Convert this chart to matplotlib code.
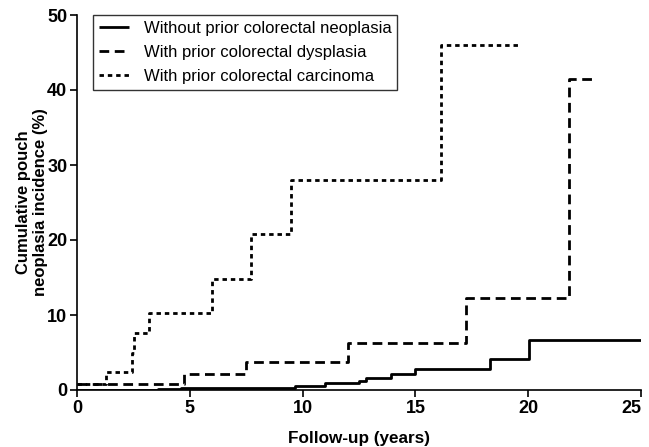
import matplotlib
matplotlib.use("Agg")
import matplotlib.pyplot as plt

# Kaplan-Meier style cumulative incidence (%) at each event time (years)
no_prior_t = [0, 3.6, 4.6, 9.65, 11.0, 12.5, 12.8, 13.9, 15.0, 18.3, 20.05, 25.0]
no_prior_y = [0, 0.1, 0.3, 0.5, 0.9, 1.2, 1.6, 2.2, 2.8, 4.1, 6.7, 6.7]

dysplasia_t = [0, 4.73, 7.5, 12.0, 17.25, 21.8, 23.0]
dysplasia_y = [0.8, 2.1, 3.7, 6.3, 12.3, 41.5, 41.5]

carcinoma_t = [0, 1.27, 2.42, 2.52, 3.19, 6.0, 7.7, 9.5, 16.15, 19.6]
carcinoma_y = [0.8, 2.4, 5.0, 7.6, 10.3, 14.8, 20.8, 28.0, 46.0, 46.0]

labels = ["Without prior colorectal neoplasia",
          "With prior colorectal dysplasia",
          "With prior colorectal carcinoma"]

plt.rcParams['font.family'] = ['Liberation Sans', 'DejaVu Sans']

fig = plt.figure(figsize=(6.49, 4.47), dpi=100)
ax = fig.add_axes([77 / 649, 1 - 390 / 447, (641 - 77) / 649, (390 - 15) / 447])

lw = 2.0
ax.plot(no_prior_t, no_prior_y, drawstyle='steps-post', color='black', lw=lw,
        solid_capstyle='butt', label=labels[0])
ax.plot(dysplasia_t, dysplasia_y, drawstyle='steps-post', color='black', lw=lw,
        linestyle=(0, (3.5, 2.0)), dash_capstyle='butt', label=labels[1])
ax.plot(carcinoma_t, carcinoma_y, drawstyle='steps-post', color='black', lw=lw,
        linestyle=(0, (1.6, 1.4)), dash_capstyle='butt', label=labels[2])

ax.set_xlim(0, 25)
ax.set_ylim(0, 50)
ax.set_xticks([0, 5, 10, 15, 20, 25])
ax.set_yticks([0, 10, 20, 30, 40, 50])
ax.spines['top'].set_visible(False)
ax.spines['right'].set_visible(False)
for s in ('left', 'bottom'):
    ax.spines[s].set_linewidth(1.2)
ax.tick_params(axis='both', direction='out', length=5, width=1.2, labelsize=13, pad=2)
for lab in ax.get_xticklabels() + ax.get_yticklabels():
    lab.set_fontweight('bold')
# keep the last x tick label inside the canvas
ax.get_xticklabels()[-1].set_horizontalalignment('right')
ax.get_xticklabels()[-1].set_x(25)

ax.set_xlabel("Follow-up (years)", fontsize=12.3, fontweight='bold', labelpad=10)
ax.set_ylabel("Cumulative pouch\nneoplasia incidence (%)", fontsize=12,
              fontweight='bold', linespacing=1.15)
ax.yaxis.set_label_coords(-0.052, 0.5)

leg = ax.legend(loc='upper left', bbox_to_anchor=(16 / 564, 1.0), borderaxespad=0,
                fontsize=12, frameon=True, fancybox=False, edgecolor='black',
                handlelength=1.8, borderpad=0.35, labelspacing=0.55,
                handletextpad=0.9)
leg.get_frame().set_linewidth(1.0)

fig.savefig("out.png", dpi=100)
